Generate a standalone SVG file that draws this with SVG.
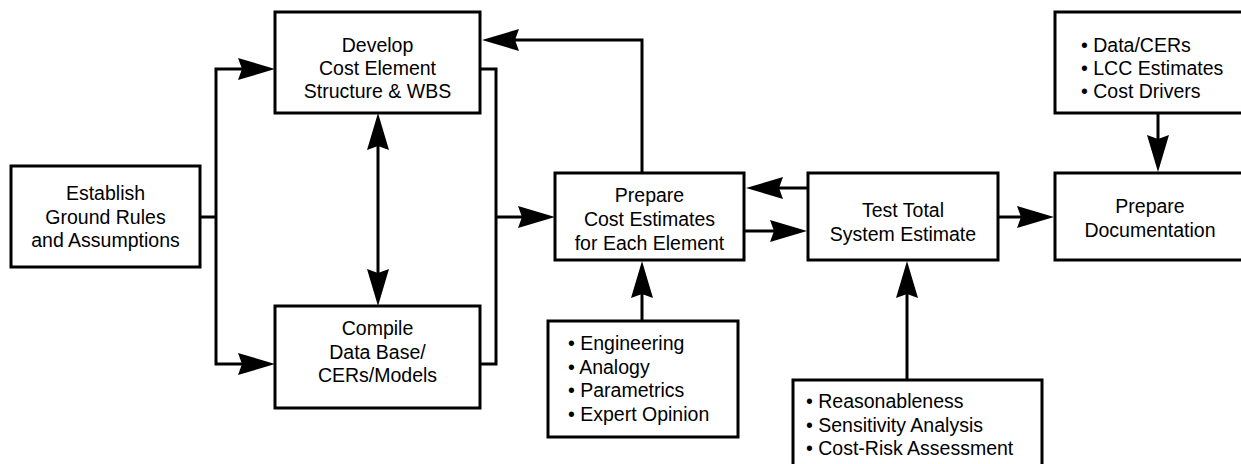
<svg xmlns="http://www.w3.org/2000/svg" width="1241" height="464" viewBox="0 0 1241 464">
<style>
.box{fill:#fff;stroke:#000;stroke-width:3}
.t{font-family:"Liberation Sans",Arial,sans-serif;font-size:19.5px;fill:#000}
.c{text-anchor:middle}
.ln{fill:none;stroke:#000;stroke-width:3}
</style>
<defs>
<marker id="ah" viewBox="0 0 37 22" refX="27" refY="11" markerWidth="37" markerHeight="22" markerUnits="userSpaceOnUse" orient="auto-start-reverse">
<path d="M0,0 L37,11 L0,22 L4,11 Z" fill="#000"/>
</marker>
</defs>
<rect width="1241" height="464" fill="#fff"/>
<g id="connectors">
<path class="ln" d="M200,217 H216"/>
<path class="ln" d="M216,217 V69 H265" marker-end="url(#ah)"/>
<path class="ln" d="M216,217 V364 H265" marker-end="url(#ah)"/>
<path class="ln" d="M378,123 V296" marker-start="url(#ah)" marker-end="url(#ah)"/>
<path class="ln" d="M480,69 H496 V364 H480"/>
<path class="ln" d="M496,217 H545" marker-end="url(#ah)"/>
<path class="ln" d="M642,173 V40 H492" marker-end="url(#ah)"/>
<path class="ln" d="M808,188 H756" marker-end="url(#ah)"/>
<path class="ln" d="M744,231 H797" marker-end="url(#ah)"/>
<path class="ln" d="M998,217 H1044" marker-end="url(#ah)"/>
<path class="ln" d="M642,321 V271" marker-end="url(#ah)"/>
<path class="ln" d="M907,380 V271" marker-end="url(#ah)"/>
<path class="ln" d="M1158,113 V162" marker-end="url(#ah)"/>
</g>
<g id="establish">
<rect class="box" x="11" y="166" width="189" height="101"/>
<text class="t c" x="105.5" y="200">Establish</text>
<text class="t c" x="105.5" y="223.5">Ground Rules</text>
<text class="t c" x="105.5" y="247">and Assumptions</text>
</g>
<g id="develop">
<rect class="box" x="275" y="12" width="205" height="101"/>
<text class="t c" x="377.5" y="52">Develop</text>
<text class="t c" x="377.5" y="75">Cost Element</text>
<text class="t c" x="377.5" y="98">Structure &amp; WBS</text>
</g>
<g id="compile">
<rect class="box" x="275" y="306" width="205" height="102"/>
<text class="t c" x="377.5" y="335">Compile</text>
<text class="t c" x="377.5" y="358.5">Data Base/</text>
<text class="t c" x="377.5" y="382">CERs/Models</text>
</g>
<g id="prepare-estimates">
<rect class="box" x="555" y="173" width="189" height="87"/>
<text class="t c" x="649.5" y="202">Prepare</text>
<text class="t c" x="649.5" y="225.5">Cost Estimates</text>
<text class="t c" x="649.5" y="249.5">for Each Element</text>
</g>
<g id="test">
<rect class="box" x="808" y="173" width="190" height="87"/>
<text class="t c" x="903" y="217">Test Total</text>
<text class="t c" x="903" y="240.5">System Estimate</text>
</g>
<g id="documentation">
<rect class="box" x="1055" y="173" width="200" height="87"/>
<text class="t c" x="1150" y="212.5">Prepare</text>
<text class="t c" x="1150" y="236.5">Documentation</text>
</g>
<g id="doc-inputs">
<rect class="box" x="1055" y="12" width="200" height="101"/>
<text class="t" x="1081" y="52">• Data/CERs</text>
<text class="t" x="1081" y="75">• LCC Estimates</text>
<text class="t" x="1081" y="98">• Cost Drivers</text>
</g>
<g id="methods">
<rect class="box" x="548" y="321" width="190" height="116"/>
<text class="t" x="568" y="350">• Engineering</text>
<text class="t" x="568" y="373.5">• Analogy</text>
<text class="t" x="568" y="397">• Parametrics</text>
<text class="t" x="568" y="420.5">• Expert Opinion</text>
</g>
<g id="tests">
<rect class="box" x="793" y="380" width="249" height="100"/>
<text class="t" x="806" y="408">• Reasonableness</text>
<text class="t" x="806" y="431.5">• Sensitivity Analysis</text>
<text class="t" x="806" y="455">• Cost-Risk Assessment</text>
</g>
</svg>
